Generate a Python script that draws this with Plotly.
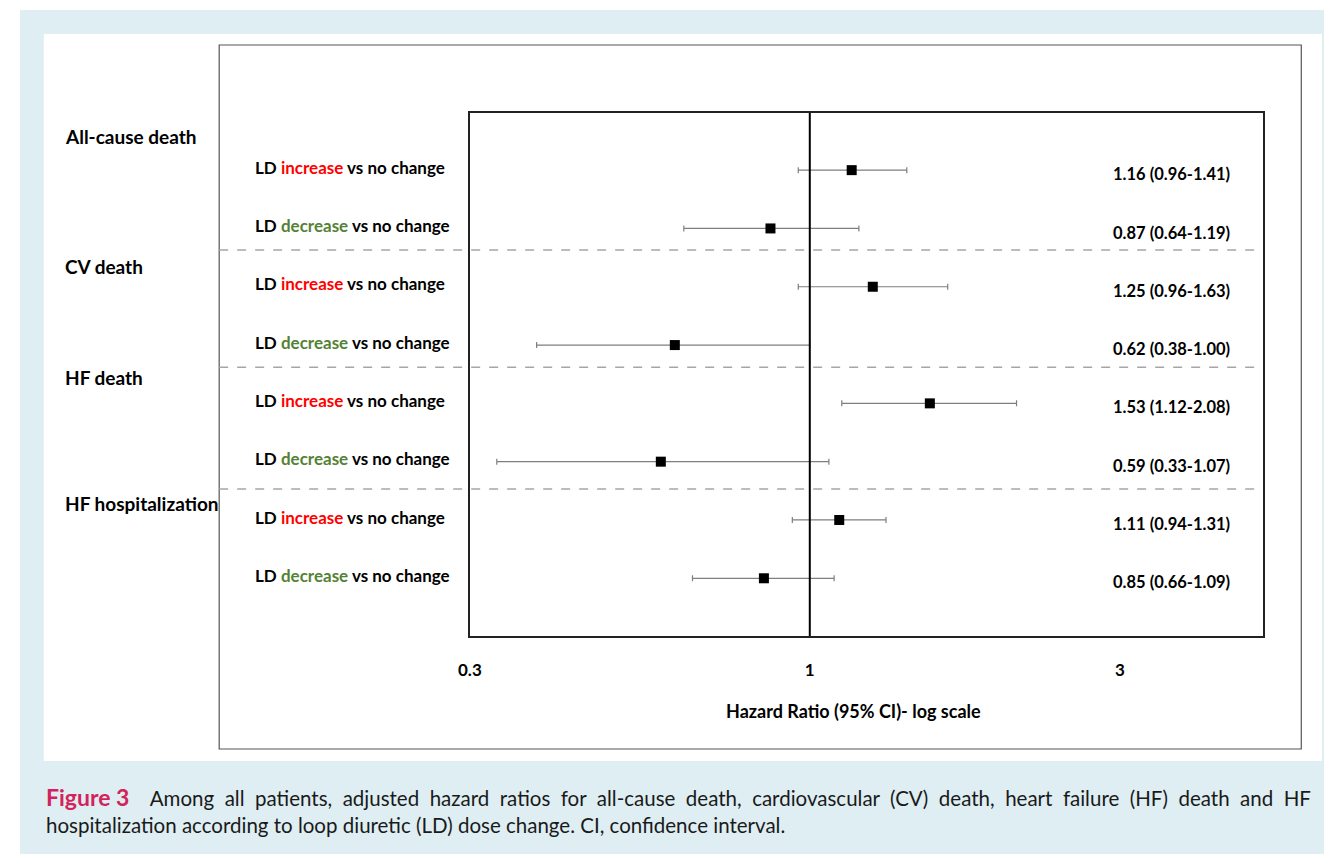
import math
import plotly.graph_objects as go

# ---------------- data ----------------
groups = ["All-cause death", "CV death", "HF death", "HF hospitalization"]
comparisons = ["increase", "decrease", "increase", "decrease",
               "increase", "decrease", "increase", "decrease"]
hr = [1.16, 0.87, 1.25, 0.62, 1.53, 0.59, 1.11, 0.85]
ci_low = [0.96, 0.64, 0.96, 0.38, 1.12, 0.33, 0.94, 0.66]
ci_high = [1.41, 1.19, 1.63, 1.00, 2.08, 1.07, 1.31, 1.09]
tick_vals = [0.3, 1, 3]
tick_text = ["0.3", "1", "3"]

# figure sized so that, with the page's 8px body margin, it fills the 1332x854 window exactly
OFF = 8
W, H = 1332 - OFF, 854 - OFF


def px(x):
    return (x - OFF) / W


def py(y):
    return 1 - (y - OFF) / H


rows = list(range(len(hr)))
FONT = "Lato"

fig = go.Figure()
fig.add_trace(go.Scatter(
    x=hr, y=rows, mode="markers",
    marker=dict(symbol="square", size=10, color="black"),
    error_x=dict(type="data", symmetric=False,
                 array=[h - m for h, m in zip(ci_high, hr)],
                 arrayminus=[m - l for m, l in zip(hr, ci_low)],
                 color="#7f7f7f", thickness=1.2, width=3),
    showlegend=False, hoverinfo="skip", cliponaxis=False,
))

shapes = []
# light blue page background
shapes.append(dict(type="rect", xref="paper", yref="paper", x0=0, x1=1,
                   y0=0, y1=py(10), fillcolor="#deeef3", line=dict(width=0), layer="below"))
# white panel
shapes.append(dict(type="rect", xref="paper", yref="paper", x0=px(32), x1=px(1322),
                   y0=py(761), y1=py(34), fillcolor="white", line=dict(width=0), layer="below"))
# outer frame
shapes.append(dict(type="rect", xref="paper", yref="paper", x0=px(209), x1=px(1301),
                   y0=py(749), y1=py(45), line=dict(color="#555555", width=1.2), layer="below"))
# dashed separators between groups
for ysep in [1.37, 3.38, 5.47]:
    shapes.append(dict(type="line", xref="paper", yref="y", x0=px(209), x1=px(1260),
                       y0=ysep, y1=ysep, line=dict(color="#a6a6a6", width=1.5, dash="dash")))
# reference line at HR = 1
shapes.append(dict(type="line", xref="x", yref="y domain", x0=1, x1=1, y0=0, y1=1,
                   line=dict(color="black", width=2)))

annotations = []
group_y = [-0.58, 1.65, 3.55, 5.71]
for g, gy in zip(groups, group_y):
    annotations.append(dict(text="<b>%s</b>" % g, xref="paper", yref="y", x=px(51), y=gy,
                            xanchor="left", yanchor="middle", showarrow=False,
                            font=dict(family=FONT, size=19, color="black")))
for i, c in enumerate(comparisons):
    col = "#ff0000" if c == "increase" else "#548235"
    txt = "<b>LD <span style='color:%s'>%s</span> vs no change</b>" % (col, c)
    annotations.append(dict(text=txt, xref="paper", yref="y", x=px(243), y=i - 0.05,
                            xanchor="left", yanchor="middle", showarrow=False,
                            font=dict(family=FONT, size=17, color="black")))
    val = "<b>%.2f (%.2f-%.2f)</b>" % (hr[i], ci_low[i], ci_high[i])
    annotations.append(dict(text=val, xref="paper", yref="y", x=px(1231), y=i + 0.07,
                            xanchor="right", yanchor="middle", showarrow=False,
                            font=dict(family=FONT, size=16.5, color="black")))
# axis title
annotations.append(dict(text="<b>Hazard Ratio (95% CI)- log scale</b>", xref="paper", yref="paper",
                        x=px(849), y=py(711), xanchor="center", yanchor="middle", showarrow=False,
                        font=dict(family=FONT, size=18, color="black")))
# caption
line1 = ("Among all patients, adjusted hazard ratios for all-cause death, cardiovascular (CV) death, "
         "heart failure (HF) death and HF").split(" ")
line1 = "&nbsp; ".join(line1)
caption = ("<b><span style='color:#d4235b;font-size:23px'>Figure 3</span></b>&nbsp;&nbsp;&nbsp; "
           + line1 +
           "<br>hospitalization according to loop diuretic (LD) dose change. CI, confidence interval.")
annotations.append(dict(text=caption, xref="paper", yref="paper", x=px(32), y=py(781),
                        xanchor="left", yanchor="top", align="left", showarrow=False,
                        font=dict(family=FONT, size=20.5, color="#1a1a1a")))

fig.update_layout(
    width=W, height=H,
    margin=dict(l=0, r=0, t=0, b=0),
    paper_bgcolor="white", plot_bgcolor="white",
    shapes=shapes, annotations=annotations,
    xaxis=dict(type="log", domain=[px(462), px(1262)],
               range=[math.log10(0.3), math.log10(0.3) + 800 / 656],
               tickvals=tick_vals, ticktext=["<b>%s</b>" % t for t in tick_text],
               tickfont=dict(family=FONT, size=17, color="black"),
               ticks="", showgrid=False, zeroline=False,
               showline=True, linecolor="#222222", linewidth=1.5, mirror=True,
               ticklabelstandoff=18),
    yaxis=dict(domain=[py(636), py(113)], range=[7.99, -0.98],
               showticklabels=False, ticks="", showgrid=False, zeroline=False,
               showline=True, linecolor="#222222", linewidth=1.5, mirror=True),
)

fig.write_html("out.html")
